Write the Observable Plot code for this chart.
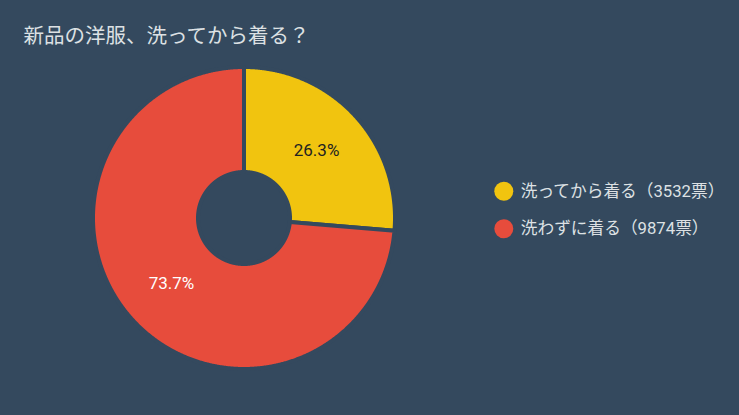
<!DOCTYPE html>
<html>
<head>
<meta charset="utf-8">
<script src="https://cdn.jsdelivr.net/npm/d3@7"></script>
<script src="https://cdn.jsdelivr.net/npm/@observablehq/plot@0.6"></script>
<style>
html, body { margin: 0; padding: 0; background: #34495e; }
</style>
</head>
<body>
<div id="chart"></div>
<script>
const title = "新品の洋服、洗ってから着る？";
const categories = ["洗ってから着る", "洗わずに着る"];
const votes = [3532, 9874];
const colors = ["#f1c40f", "#e74c3c"];
const labelColors = ["#222222", "#ffffff"];

const W = 739, H = 415;
const cx = 243.5, cy = 217.5;
const rOuter = 151, rInner = 46;
const font = "Roboto, 'Noto Sans CJK JP', sans-serif";

const total = d3.sum(votes);
const pie = d3.pie().sort(null).value(d => d.votes);
const rows = categories.map((c, i) => ({category: c, votes: votes[i], color: colors[i], labelColor: labelColors[i],
  pct: (votes[i] / total * 100).toFixed(1) + "%", legend: `${c}（${votes[i]}票）`, i}));
const arcs = pie(rows);

// polygon points for each slice (angles clockwise from top)
const pts = [];
const pol = (r, a) => [r * Math.sin(a), r * Math.cos(a)];
for (const a of arcs) {
  const n = Math.max(2, Math.ceil((a.endAngle - a.startAngle) / 0.005));
  for (let k = 0; k <= n; k++) {
    const t = a.startAngle + (a.endAngle - a.startAngle) * k / n;
    const [x, y] = pol(rOuter, t);
    pts.push({x, y, category: a.data.category, color: a.data.color});
  }
  for (let k = n; k >= 0; k--) {
    const t = a.startAngle + (a.endAngle - a.startAngle) * k / n;
    const [x, y] = pol(rInner, t);
    pts.push({x, y, category: a.data.category, color: a.data.color});
  }
}
const labelR = (rOuter + rInner) / 2;
const labels = arcs.map(a => {
  const m = (a.startAngle + a.endAngle) / 2;
  const [x, y] = pol(labelR, m);
  return {x, y, text: a.data.pct, color: a.data.labelColor};
});

const legendX = 503.3 - cx, legendY0 = cy - 190.7, legendStep = 37.6;

const chart = Plot.plot({
  width: W, height: H, margin: 0,
  x: {domain: [-cx, W - cx], axis: null},
  y: {domain: [cy - H, cy], axis: null},
  style: {background: "#34495e", fontFamily: font},
  marks: [
    Plot.line(pts, {x: "x", y: "y", z: "category", fill: d => d.color, stroke: "#34495e", strokeWidth: 4, curve: "linear-closed"}),
    Plot.text(labels, {x: "x", y: "y", text: "text", fill: d => d.color, fontSize: 17, dy: -1}),
    Plot.text([title], {frameAnchor: "top-left", dx: 23, dy: 28, fill: "#dde1e4", fontSize: 20.5, lineAnchor: "top", textAnchor: "start"}),
    Plot.dot(rows, {x: () => legendX, y: d => legendY0 - d.i * legendStep, r: 9.5, fill: "color", stroke: null}),
    Plot.text(rows, {x: () => legendX + 17, y: d => legendY0 - d.i * legendStep, text: "legend", textAnchor: "start", fill: "#dde1e4", fontSize: 16.7})
  ]
});
document.getElementById("chart").appendChild(chart);
</script>
</body>
</html>
